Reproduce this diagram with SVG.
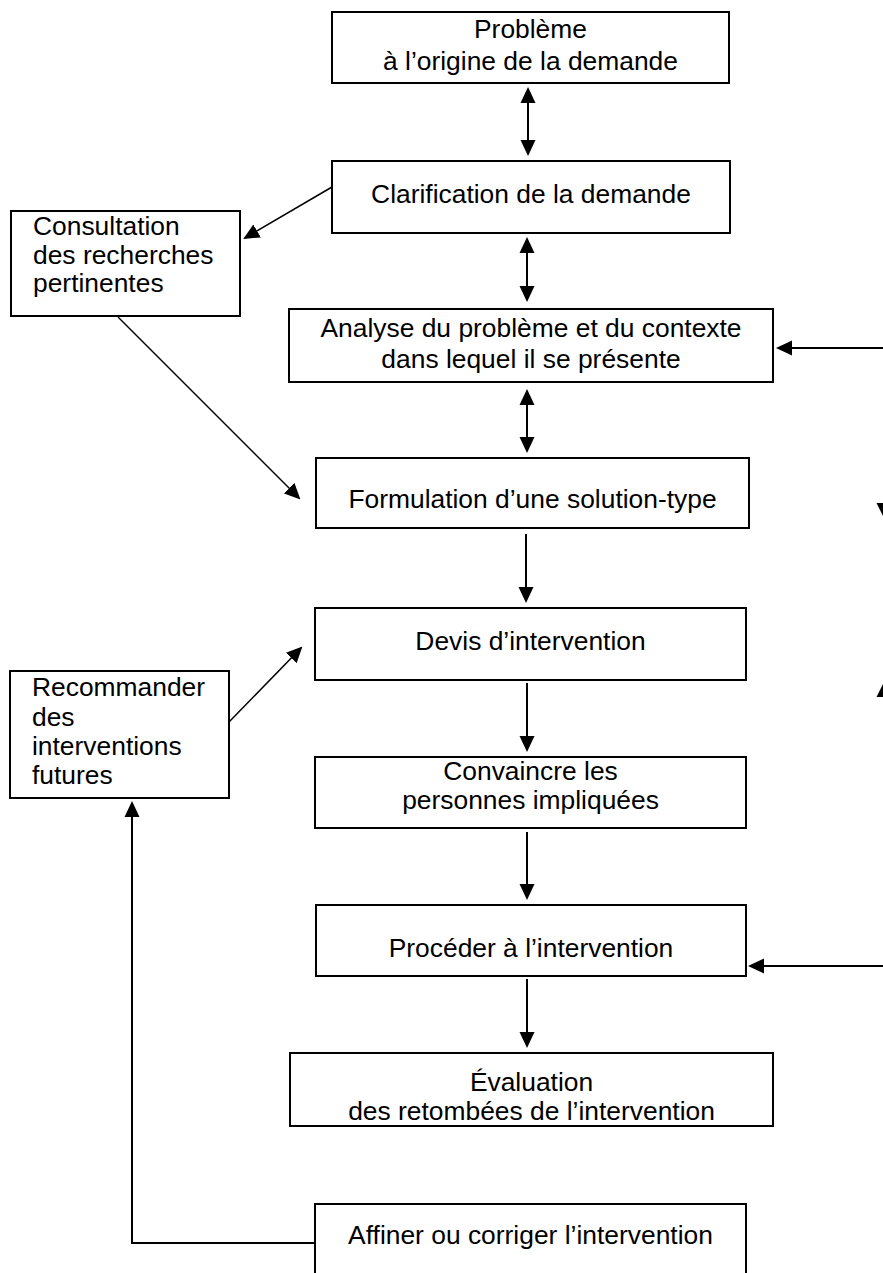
<svg xmlns="http://www.w3.org/2000/svg" width="883" height="1273" viewBox="0 0 883 1273">
<defs>
<style>
.box{fill:#fff;stroke:#000;stroke-width:2}
.t{font-family:"Liberation Sans",Arial,sans-serif;font-size:26.4px;fill:#000;text-anchor:middle}
.tl{font-family:"Liberation Sans",Arial,sans-serif;font-size:26.4px;fill:#000}
.c{fill:none;stroke:#000;stroke-width:2}
.d{fill:none;stroke:#000;stroke-width:1.5}
.h{fill:#000;stroke:none}
</style>
<marker id="ah" markerUnits="userSpaceOnUse" markerWidth="16" markerHeight="16" viewBox="0 0 16 16" refX="14" refY="8" orient="auto-start-reverse">
<path d="M0,0.5 L16,8 L0,15.5 z" fill="#000"/>
</marker>
</defs>
<rect width="883" height="1273" fill="#fff"/>

<g id="connectors">
<line class="c" x1="528" y1="89" x2="528" y2="154" marker-start="url(#ah)" marker-end="url(#ah)"/>
<line class="c" x1="527" y1="239" x2="527" y2="300" marker-start="url(#ah)" marker-end="url(#ah)"/>
<line class="c" x1="527" y1="391" x2="527" y2="451" marker-start="url(#ah)" marker-end="url(#ah)"/>
<line class="c" x1="526" y1="534" x2="526" y2="601" marker-end="url(#ah)"/>
<line class="c" x1="527" y1="683" x2="527" y2="750" marker-end="url(#ah)"/>
<line class="c" x1="527" y1="832" x2="527" y2="898" marker-end="url(#ah)"/>
<line class="c" x1="527" y1="979" x2="527" y2="1046" marker-end="url(#ah)"/>
<line class="d" x1="332" y1="187" x2="245" y2="238" marker-end="url(#ah)"/>
<line class="d" x1="118" y1="317" x2="299" y2="498" stroke-width="1.2" marker-end="url(#ah)"/>
<line class="d" x1="229" y1="722" x2="301" y2="648" marker-end="url(#ah)"/>
<line class="c" x1="890" y1="348" x2="778" y2="348" marker-end="url(#ah)"/>
<line class="c" x1="890" y1="966" x2="750" y2="966" marker-end="url(#ah)"/>
<polyline class="c" points="316,1243 132,1243 132,803" marker-end="url(#ah)"/>
<polygon class="h" points="876.5,503 892.5,503 884.5,519"/>
<polygon class="h" points="876.5,697 892.5,697 884.5,681"/>
</g>

<g id="n1">
<rect class="box" x="332" y="12" width="397" height="71"/>
<text class="t" x="530.5" y="38">Problème</text>
<text class="t" x="530.5" y="70">à l’origine de la demande</text>
</g>
<g id="n2">
<rect class="box" x="332" y="161" width="398" height="72"/>
<text class="t" x="531" y="203">Clarification de la demande</text>
</g>
<g id="n3">
<rect class="box" x="289" y="309" width="484" height="73"/>
<text class="t" x="531" y="337">Analyse du problème et du contexte</text>
<text class="t" x="531" y="368">dans lequel il se présente</text>
</g>
<g id="n4">
<rect class="box" x="316" y="458" width="433" height="70"/>
<text class="t" x="532.5" y="508">Formulation d’une solution-type</text>
</g>
<g id="n5">
<rect class="box" x="315" y="608" width="431" height="72"/>
<text class="t" x="530.5" y="650">Devis d’intervention</text>
</g>
<g id="n6">
<rect class="box" x="315" y="757" width="431" height="71"/>
<text class="t" x="530.5" y="780">Convaincre les</text>
<text class="t" x="530.5" y="809">personnes impliquées</text>
</g>
<g id="n7">
<rect class="box" x="316" y="905" width="430" height="71"/>
<text class="t" x="531" y="957">Procéder à l’intervention</text>
</g>
<g id="n8">
<rect class="box" x="290" y="1053" width="483" height="73"/>
<text class="t" x="531.5" y="1091">Évaluation</text>
<text class="t" x="531.5" y="1120">des retombées de l’intervention</text>
</g>
<g id="n9">
<rect class="box" x="315" y="1204" width="431" height="100"/>
<text class="t" x="530.5" y="1244">Affiner ou corriger l’intervention</text>
</g>
<g id="n10">
<rect class="box" x="11" y="211" width="229" height="105"/>
<text class="tl" x="33" y="235">Consultation</text>
<text class="tl" x="33" y="264">des recherches</text>
<text class="tl" x="33" y="292">pertinentes</text>
</g>
<g id="n11">
<rect class="box" x="10" y="671" width="219" height="127"/>
<text class="tl" x="32" y="696">Recommander</text>
<text class="tl" x="32" y="726">des</text>
<text class="tl" x="32" y="755">interventions</text>
<text class="tl" x="32" y="784">futures</text>
</g>
</svg>
